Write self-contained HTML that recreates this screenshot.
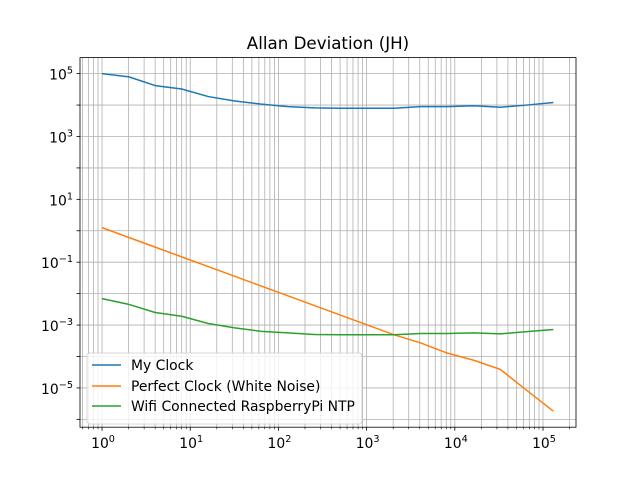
<!DOCTYPE html>
<html><head><meta charset="utf-8"><style>body{margin:0;background:#fff}svg{display:block}text{font-family:"DejaVu Sans","Liberation Sans",sans-serif}</style></head>
<body>
<svg id="chart" width="640" height="480" viewBox="0 0 640 480" xmlns="http://www.w3.org/2000/svg">
<rect width="640" height="480" fill="#fff"/>
<text x="328" y="49" font-size="16.7" text-anchor="middle">Allan Deviation (JH)</text>
<g id="grid"></g>
<g id="series"></g>
<rect x="80" y="57.6" width="496" height="369.6" fill="none" stroke="#000" stroke-width="0.8"/>
<g id="ticks"></g>
<g id="legend">
<rect x="87" y="353" width="275" height="71" rx="3" fill="#fff" fill-opacity="0.8" stroke="#ccc" stroke-width="0.8"/>
<g><line x1="92" y1="365" x2="121" y2="365" stroke="#1f77b4" stroke-width="1.5"/><text x="131" y="370" font-size="13.9">My Clock</text></g>
<g><line x1="92" y1="386" x2="121" y2="386" stroke="#ff7f0e" stroke-width="1.5"/><text x="131" y="391" font-size="13.9">Perfect Clock (White Noise)</text></g>
<g><line x1="92" y1="406" x2="121" y2="406" stroke="#2ca02c" stroke-width="1.5"/><text x="131" y="411" font-size="13.9">Wifi Connected RaspberryPi NTP</text></g>
</g>
</svg>
<script>
// tau values (powers of 2)
const taus = [1,2,4,8,16,32,64,128,256,512,1024,2048,4096,8192,16384,32768,65536,131072];
// log10 of deviations
const myClockLog = [5.0,4.9,4.62,4.51,4.27,4.13,4.03,3.95,3.91,3.90,3.90,3.90,3.95,3.95,3.98,3.93,4.0,4.08];
const perfectLog = [0.10,-0.21,-0.52,-0.83,-1.14,-1.45,-1.76,-2.07,-2.38,-2.69,-3.00,-3.31,-3.57,-3.89,-4.12,-4.41,-5.08,-5.74];
const wifiLog = [-2.16,-2.34,-2.60,-2.72,-2.95,-3.09,-3.20,-3.25,-3.30,-3.31,-3.31,-3.31,-3.27,-3.27,-3.25,-3.28,-3.21,-3.14];
const xTickExps = [0,1,2,3,4,5];
const yTickExps = [5,3,1,-1,-3,-5];

const NS = "http://www.w3.org/2000/svg";
const L=80,R=576,T=57.6,B=427.2;
const xMin=-0.25,xMax=5.374,yMin=-6.25,yMax=5.51;
function xs(lx){return L+(lx-xMin)/(xMax-xMin)*(R-L);}
function ys(ly){return B-(ly-yMin)/(yMax-yMin)*(B-T);}
function mk(tag,attrs,parent){const e=document.createElementNS(NS,tag);for(const k in attrs)e.setAttribute(k,attrs[k]);parent.appendChild(e);return e;}

const grid=document.getElementById('grid');
const ticks=document.getElementById('ticks');
for(let d=-1;d<=5;d++){for(let m=1;m<=9;m++){const lx=d+Math.log10(m);if(lx<xMin||lx>xMax)continue;const x=xs(lx);
 const g=mk('line',{x1:x,x2:x,y1:T,y2:B,stroke:'#b0b0b0','stroke-width':0.8},grid);
 
 
 const t=mk('line',{x1:x,x2:x,y1:B,y2:B+(m===1?3.5:2),stroke:'#000','stroke-width':m===1?0.8:0.6},ticks);
 
 
}}
for(let d=-6;d<=5;d++){const y=ys(d);
 const g=mk('line',{x1:L,x2:R,y1:y,y2:y,stroke:'#b0b0b0','stroke-width':0.8},grid);
 
 
 const t=mk('line',{x1:L-3.5,x2:L,y1:y,y2:y,stroke:'#000','stroke-width':0.8},ticks);
 
 
}
xTickExps.forEach(e=>{const t=mk('text',{x:xs(e)+1,y:B+21,'font-size':13.9,'text-anchor':'middle'},ticks);
 
 
 t.textContent='10';const s=mk('tspan',{dy:-6,'font-size':9.7},t);s.textContent=String(e);});
yTickExps.forEach(e=>{const t=mk('text',{x:73,y:ys(e)+6,'font-size':13.9,'text-anchor':'end'},ticks);
 
 
 t.textContent='10';const s=mk('tspan',{dy:-6,'font-size':9.7},t);s.textContent=(e<0?'\u2212':'')+Math.abs(e);});

const series=document.getElementById('series');
[[myClockLog,'#1f77b4','my-clock-line'],[perfectLog,'#ff7f0e','perfect-clock-line'],[wifiLog,'#2ca02c','wifi-ntp-line']].forEach(([vals,c,n])=>{
 const pts=vals.map((v,i)=>xs(Math.log10(taus[i])).toFixed(2)+','+ys(v).toFixed(2)).join(' ');
 const p=mk('polyline',{points:pts,fill:'none',stroke:c,'stroke-width':1.5,'stroke-linejoin':'round'},series);
 
 
});
</script>
</body></html>
